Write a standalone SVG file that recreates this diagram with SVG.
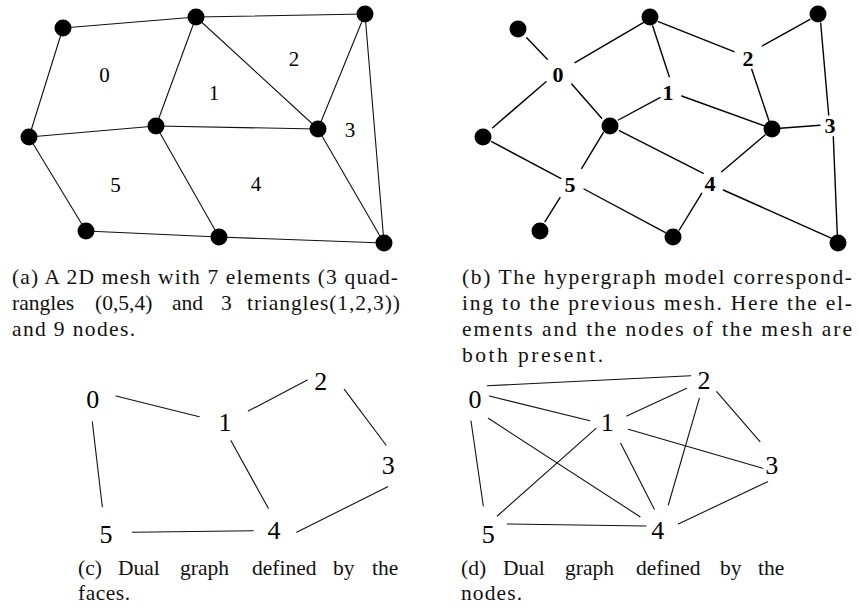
<svg xmlns="http://www.w3.org/2000/svg" width="859" height="607" viewBox="0 0 859 607">
<style>
.e{stroke:#111;stroke-width:1.1;fill:none;stroke-linecap:round}
.eb{stroke:#000;stroke-width:1.4;fill:none;stroke-linecap:round}
.dot{fill:#000}
.lm{font-family:"Liberation Serif","Times New Roman",serif;font-size:21px;fill:#000;text-anchor:middle}
.lb{font-family:"Liberation Serif","Times New Roman",serif;font-size:22px;font-weight:bold;fill:#000;text-anchor:middle}
.ld{font-family:"Liberation Serif","Times New Roman",serif;font-size:26px;fill:#000;text-anchor:middle}
.cap{font-family:"Liberation Serif","Times New Roman",serif;font-size:21.5px;fill:#111}
</style>
<rect width="859" height="607" fill="#fff"/>

<!-- Panel (a): mesh -->
<g id="mesh-edges" class="e">
<line x1="63" y1="28" x2="196" y2="17"/>
<line x1="196" y1="17" x2="365" y2="14"/>
<line x1="63" y1="28" x2="29" y2="137"/>
<line x1="196" y1="17" x2="156" y2="126"/>
<line x1="196" y1="17" x2="318" y2="129"/>
<line x1="365" y1="14" x2="318" y2="129"/>
<line x1="365" y1="14" x2="384" y2="243"/>
<line x1="29" y1="137" x2="156" y2="126"/>
<line x1="156" y1="126" x2="318" y2="129"/>
<line x1="29" y1="137" x2="86" y2="231"/>
<line x1="156" y1="126" x2="219" y2="237"/>
<line x1="318" y1="129" x2="384" y2="243"/>
<line x1="86" y1="231" x2="219" y2="237"/>
<line x1="219" y1="237" x2="384" y2="243"/>
</g>
<g id="mesh-nodes" class="dot">
<circle id="a-n1" cx="63" cy="28" r="8.5"/>
<circle id="a-n2" cx="196" cy="17" r="8.5"/>
<circle id="a-n3" cx="365" cy="14" r="8.5"/>
<circle id="a-n4" cx="29" cy="137" r="8.5"/>
<circle id="a-n5" cx="156" cy="126" r="8.5"/>
<circle id="a-n6" cx="318" cy="129" r="8.5"/>
<circle id="a-n7" cx="86" cy="231" r="8.5"/>
<circle id="a-n8" cx="219" cy="237" r="8.5"/>
<circle id="a-n9" cx="384" cy="243" r="8.5"/>
</g>
<g id="mesh-labels" class="lm">
<text x="104.5" y="81.5">0</text>
<text x="214" y="100">1</text>
<text x="294" y="65.5">2</text>
<text x="350" y="136.5">3</text>
<text x="256" y="190.5">4</text>
<text x="115.5" y="192">5</text>
</g>

<!-- Panel (b): hypergraph -->
<g id="hyper-edges" class="eb">
<line x1="526.7" y1="37.7" x2="547.3" y2="59.3"/>
<line x1="575" y1="62.7" x2="643.3" y2="22.7"/>
<line x1="492.7" y1="127.7" x2="546" y2="81.7"/>
<line x1="571.7" y1="84" x2="601.7" y2="118.3"/>
<line x1="652.7" y1="26" x2="669.3" y2="76.7"/>
<line x1="618.3" y1="120" x2="660" y2="97.7"/>
<line x1="681.7" y1="96" x2="765" y2="126"/>
<line x1="658.3" y1="21.7" x2="734" y2="51.7"/>
<line x1="762.3" y1="46" x2="810" y2="19.3"/>
<line x1="751.7" y1="69.3" x2="769.3" y2="121.7"/>
<line x1="820.7" y1="23.3" x2="828.7" y2="115"/>
<line x1="780" y1="128.3" x2="820" y2="125.3"/>
<line x1="833.3" y1="136.7" x2="837.3" y2="235"/>
<line x1="619.3" y1="130.7" x2="703.3" y2="173.3"/>
<line x1="721.7" y1="171.7" x2="765" y2="135"/>
<line x1="679.3" y1="230" x2="701.7" y2="193.3"/>
<line x1="723.3" y1="190" x2="831.7" y2="238.3"/>
<line x1="491.7" y1="141.7" x2="560.7" y2="178.3"/>
<line x1="603.3" y1="132.7" x2="581.7" y2="168.3"/>
<line x1="545" y1="221.7" x2="560" y2="197.7"/>
<line x1="584" y1="189" x2="665" y2="232.3"/>
</g>
<g id="hyper-nodes" class="dot">
<circle id="b-n1" cx="518" cy="29" r="8.5"/>
<circle id="b-n2" cx="650" cy="17" r="8.5"/>
<circle id="b-n3" cx="818" cy="14" r="8.5"/>
<circle id="b-n4" cx="483" cy="137" r="8.5"/>
<circle id="b-n5" cx="610" cy="126" r="8.5"/>
<circle id="b-n6" cx="772" cy="129" r="8.5"/>
<circle id="b-n7" cx="540" cy="231" r="8.5"/>
<circle id="b-n8" cx="673" cy="237" r="8.5"/>
<circle id="b-n9" cx="838" cy="243" r="8.5"/>
</g>
<g id="hyper-labels" class="lb">
<text x="558" y="81.5">0</text>
<text x="668" y="100">1</text>
<text x="748" y="65.5">2</text>
<text x="830" y="133">3</text>
<text x="710" y="190.5">4</text>
<text x="570" y="192">5</text>
</g>

<!-- Panel (c): dual graph by faces -->
<g id="dualc-edges" class="e">
<line x1="116" y1="396" x2="199.3" y2="416.7"/>
<line x1="248.3" y1="411" x2="307.3" y2="380"/>
<line x1="344.3" y1="389.3" x2="386" y2="445"/>
<line x1="231" y1="440.7" x2="268.3" y2="508.3"/>
<line x1="92.3" y1="421.7" x2="102.3" y2="506.7"/>
<line x1="132.3" y1="532.3" x2="253.3" y2="530.7"/>
<line x1="296.7" y1="532.3" x2="387.7" y2="486.7"/>
</g>
<g id="dualc-nodes" class="ld">
<text id="c0" x="92.7" y="408">0</text>
<text id="c1" x="225" y="430.5">1</text>
<text id="c2" x="320.7" y="390">2</text>
<text id="c3" x="388.3" y="474">3</text>
<text id="c4" x="274" y="539">4</text>
<text id="c5" x="106" y="542.5">5</text>
</g>

<!-- Panel (d): dual graph by nodes -->
<g id="duald-edges" class="e">
<line x1="487.3" y1="385.7" x2="690.7" y2="375.7"/>
<line x1="489.3" y1="396" x2="590" y2="420.7"/>
<line x1="626.7" y1="416" x2="686.7" y2="388.3"/>
<line x1="716.7" y1="391.7" x2="760" y2="441.7"/>
<line x1="699.3" y1="398.3" x2="668.3" y2="505"/>
<line x1="628.3" y1="429.3" x2="762.7" y2="468.3"/>
<line x1="471" y1="421" x2="483.3" y2="506"/>
<line x1="488.3" y1="418.3" x2="640" y2="516.7"/>
<line x1="596" y1="428.3" x2="497.3" y2="516"/>
<line x1="620.7" y1="443.3" x2="654.3" y2="509.3"/>
<line x1="767.7" y1="481.7" x2="678.3" y2="524"/>
<line x1="507.3" y1="524" x2="646" y2="526"/>
</g>
<g id="duald-nodes" class="ld">
<text id="d0" x="475" y="408">0</text>
<text id="d1" x="607.3" y="430.5">1</text>
<text id="d2" x="704" y="389.3">2</text>
<text id="d3" x="771.7" y="474">3</text>
<text id="d4" x="657.7" y="539">4</text>
<text id="d5" x="488.3" y="542.5">5</text>
</g>

<!-- Captions -->
<g id="caption-a" class="cap">
<text x="12" y="284" textLength="386" lengthAdjust="spacing">(a) A 2D mesh with 7 elements (3 quad-</text>
<text y="310"><tspan x="12">rangles</tspan> <tspan x="95">(0,5,4)</tspan> <tspan x="172">and</tspan> <tspan x="221">3</tspan> <tspan x="247" textLength="153" lengthAdjust="spacing">triangles(1,2,3))</tspan></text>
<text x="12" y="336" textLength="123" lengthAdjust="spacing">and 9 nodes.</text>
</g>
<g id="caption-b" class="cap">
<text x="462" y="284" textLength="390" lengthAdjust="spacing">(b) The hypergraph model correspond-</text>
<text x="462" y="310" textLength="390" lengthAdjust="spacing">ing to the previous mesh.  Here the el-</text>
<text x="462" y="336" textLength="390" lengthAdjust="spacing">ements and the nodes of the mesh are</text>
<text x="462" y="362" textLength="141" lengthAdjust="spacing">both present.</text>
</g>
<g id="caption-c" class="cap">
<text y="575"><tspan x="78">(c)</tspan> <tspan x="118">Dual</tspan> <tspan x="180">graph</tspan> <tspan x="252">defined</tspan> <tspan x="333">by</tspan> <tspan x="372">the</tspan></text>
<text x="78" y="600" textLength="52" lengthAdjust="spacing">faces.</text>
</g>
<g id="caption-d" class="cap">
<text y="575"><tspan x="461">(d)</tspan> <tspan x="503">Dual</tspan> <tspan x="565">graph</tspan> <tspan x="636">defined</tspan> <tspan x="720">by</tspan> <tspan x="758">the</tspan></text>
<text x="461" y="600" textLength="61" lengthAdjust="spacing">nodes.</text>
</g>
</svg>
